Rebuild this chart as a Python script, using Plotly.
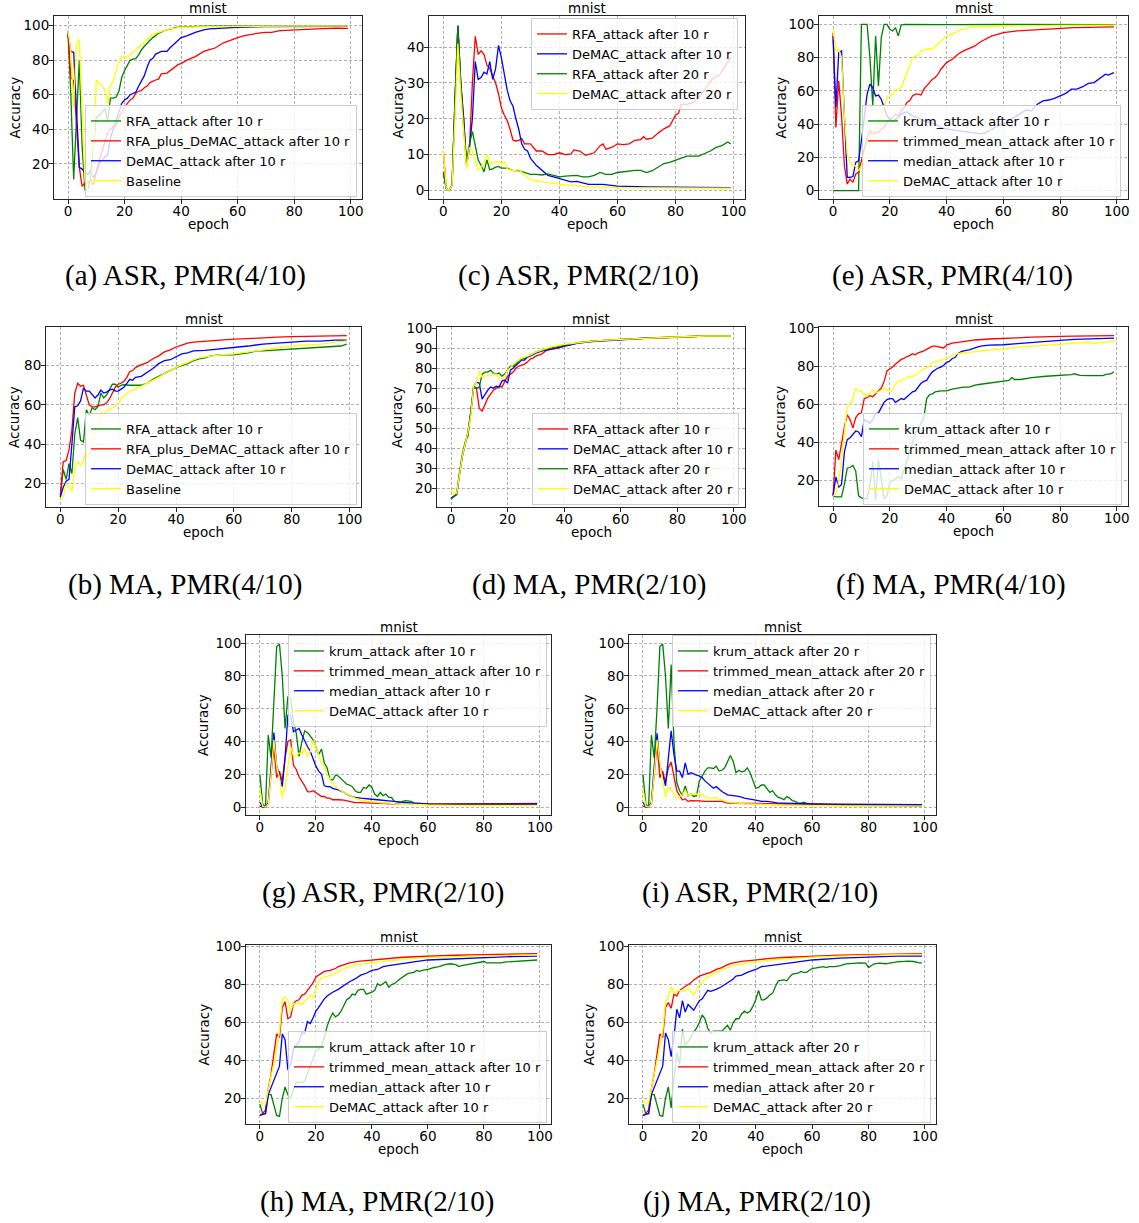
import plotly.graph_objects as go

W, H = 1139, 1223
GREEN, RED, BLUE, YELLOW = "#008000", "#ff0000", "#0000ff", "#ffff00"
FONT = "DejaVu Sans"
SERIF = "Liberation Serif"

# ---------------- (a) ASR, PMR(4/10) ----------------
a_rfa = [(0,97),(1,60),(2,11),(3,45),(4,80),(5,30),(6,5),(7,5),(8,12),(9,30),(10,47),(11,48),(12,50),(13,52),(14,45),(15,58),(16,58),(17,58.5),(18,62),(19,70),(20,74),(21,77),(22,80),(23,80.5),(24,81),(25,83),(26,86),(27,88),(28,90),(29,91.5),(30,93),(32,95.5),(34,97),(36,98),(38,98.8),(40,99.2),(45,99.5),(50,99.6),(60,99.7),(70,99.7),(80,99.6),(90,99.6),(99,99.5)]
a_plus = [(0,95),(1,70),(2,68),(3,40),(4,18),(5,7),(6,9),(7,9),(8,10),(9,8),(10,15),(11,22),(12,27),(13,32),(14,38),(15,40),(16,42),(17,42),(18,47),(19,50),(20,53),(21,55),(22,57),(23,58),(24,61),(25,62),(26,62.5),(27,64),(28,65),(29,67),(30,68),(31,68.5),(32,69),(33,72),(35,72.5),(37,75),(39,77.5),(40,78),(42,80),(45,82),(48,85),(50,86),(52,87),(55,90),(58,92),(60,93),(62,94),(65,95),(68,95.8),(70,96),(72,96),(75,97),(80,97.5),(85,98),(90,98.2),(95,98.5),(99,98.3)]
a_demac = [(0,95),(1,85),(2,84.5),(3,50),(4,18),(5,17),(6,15),(7,14),(8,16),(9,12),(10,15),(11,20),(12,22),(13,24),(14,25),(15,35),(16,40),(17,45),(18,50),(19,55),(20,57),(21,58),(22,60),(23,61),(24,61.5),(25,65),(26,68),(27,71),(28,76),(29,80),(30,81),(31,83.5),(33,85),(35,85),(36,87),(38,90),(40,93),(42,94),(45,96),(48,97.5),(50,98),(55,98.5),(60,99),(70,99.4),(80,99.5),(99,99.5)]
a_base = [(0,97),(1,85),(2,53),(3,90),(4,92),(5,55),(6,10),(7,5),(8,5),(9,25),(10,68.5),(11,67),(12,65),(13,63),(14,55),(15,65),(16,68),(17,73),(18,79),(19,82),(20,82),(21,81.5),(22,83),(24,86),(26,89),(28,92),(30,95),(32,96),(34,97),(36,98),(38,98.5),(40,99),(50,99.3),(60,99.5),(80,99.6),(99,99.7)]

# ---------------- (c) ASR, PMR(2/10) ----------------
c_rfa10 = [(0,11),(1,0.5),(2,0),(3,1.5),(4,25),(5,46),(6,30),(7,20),(8,7),(9,12),(10,30),(11,43),(12,38),(13,39),(14,38),(15,35),(16,34),(17,32),(18,30),(19,27),(20,23),(21,21),(22,19.5),(23,17),(24,14),(25,13.8),(26,14),(27,14.5),(28,13),(30,13),(31,12),(32,11),(34,11),(36,10),(38,10),(40,10.5),(42,10),(44,10.2),(45,11.3),(47,11),(49,9.8),(50,10),(52,10.5),(54,12.5),(55,13),(56,11.5),(58,12),(60,13),(62,12.8),(64,13),(66,14),(68,14.2),(69,15),(70,14.3),(72,14.6),(74,16),(76,17.2),(78,18),(80,21),(81,21.5),(82,24),(84,24),(86,24.5),(88,26),(90,28),(92,30.5),(94,32),(95,32),(97,34.5),(99,37)]
c_demac10 = [(0,5),(1,0.5),(2,0),(3,1.5),(4,25),(5,46),(6,30),(7,20),(8,7),(9,12),(10,20),(11,36),(12,31),(13,31.5),(14,33),(15,32.5),(16,36),(17,31),(18,34),(19,40.5),(20,37),(21,32),(22,28),(23,25),(24,23.5),(25,20),(26,17),(27,13),(28,11.5),(29,11),(30,9),(32,7),(34,5.5),(36,4.2),(38,3.8),(40,3.3),(42,2.8),(44,2.4),(46,2.5),(48,2.1),(50,1.7),(55,1.7),(58,1.3),(60,1.2),(70,1.0),(80,1.0),(90,0.9),(99,0.8)]
c_rfa20 = [(0,5),(1,0.5),(2,0),(3,1.5),(4,25),(5,46),(6,30),(7,17),(8,8),(9,13),(10,16.5),(11,12),(12,8.5),(13,7),(14,5.2),(15,8.5),(16,5.8),(17,6),(18,6.5),(19,6.7),(20,6.2),(22,6.2),(24,5.5),(26,5.5),(28,5),(30,4.5),(32,4.5),(34,4.3),(36,4.6),(38,4.3),(40,3.8),(42,4),(44,4.2),(46,4.2),(48,3.8),(50,3.8),(52,4.2),(54,5),(56,4.5),(58,4.5),(60,5),(62,5.2),(64,5.6),(66,5.6),(68,5.6),(70,5),(72,5.5),(74,6.5),(76,7.5),(78,7.8),(80,8.3),(82,9),(84,9.6),(86,9.5),(88,9.6),(90,10.3),(92,11),(94,12),(96,12.5),(98,13.5),(99,13)]
c_demac20 = [(0,11),(1,0.5),(2,0),(3,1.5),(4,20),(5,41),(6,27),(7,15),(8,6),(9,12),(10,11),(11,8),(12,5.5),(13,6.5),(14,7.5),(15,10.2),(16,7.3),(17,7.8),(18,8),(19,8),(20,7.5),(21,8),(22,6),(24,5.5),(26,5.8),(28,4.5),(30,3),(32,2.7),(34,2.3),(36,2.1),(38,2),(40,1.7),(42,1.5),(44,1.5),(46,1.3),(48,1.1),(50,1.0),(55,0.9),(60,0.7),(70,0.7),(80,0.7),(99,0.6)]

# ---------------- (e) ASR, PMR(4/10) ----------------
e_krum = [(0,0),(1,0),(2,0),(3,0),(4,0),(5,0),(6,0),(7,0),(8,0),(9,0),(10,100),(11,100),(12,100),(13,80),(14,51),(15,93),(16,63),(17,92),(18,100),(19,100),(20,97),(21,96),(22,98),(23,93),(24,99.5),(25,100),(30,99.8),(40,99.8),(60,99.9),(80,99.9),(99,99.8)]
e_trim = [(0,95),(1,38),(2,66),(3,45),(4,15),(5,4),(6,7),(7,5),(8,10),(9,11),(10,18),(11,25),(12,32),(13,36),(14,34),(15,35),(16,35),(17,37),(18,38),(19,41),(20,43),(21,44),(22,46),(23,45),(24,48),(25,50),(26,53),(27,54),(28,57),(29,58),(30,58),(31,57.5),(32,61),(33,63),(34,65),(35,67),(36,68),(37,70),(38,73),(39,75),(40,77),(42,79),(44,82),(46,84),(48,85.5),(50,87),(52,89.5),(54,91.5),(56,93),(58,94),(60,95),(65,96),(70,96.5),(72,97),(80,97.5),(85,98),(90,98.2),(99,98.5)]
e_median = [(0,93),(1,50),(2,83),(3,84),(4,45),(5,8),(6,8),(7,8.5),(8,17),(9,18),(10,30),(11,45),(12,58),(13,64),(14,62),(15,57),(16,57.5),(17,55),(18,50),(19,45),(20,43),(21,42),(22,43),(23,44),(24,46),(25,47),(26,47.5),(27,46),(28,45),(30,44),(32,42),(34,41),(36,40),(38,38),(40,37),(42,36.5),(44,36),(46,35.5),(48,35),(50,34.5),(52,34.2),(54,35),(56,37),(58,39),(60,40),(62,42),(64,44),(66,46),(68,48.5),(70,48),(72,52),(74,54),(76,54.5),(78,55.5),(80,57),(82,58.5),(84,61),(86,61),(88,62.5),(90,64.5),(92,65),(94,67.5),(96,70),(97,69.5),(99,71)]
e_demac = [(0,97),(1,84),(2,85),(3,80),(4,45),(5,22),(6,17),(7,15),(8,15),(9,12),(10,15),(11,20),(12,25),(13,30),(14,35),(15,38),(16,40),(17,45),(18,50),(19,56),(20,57),(21,58),(22,60.5),(23,61),(24,62),(25,66),(26,70),(27,75),(28,80),(29,81),(30,81),(31,84),(33,85),(35,85),(36,87),(38,90),(40,93),(42,94),(44,96),(46,97),(48,98),(50,98.5),(60,99),(80,99.4),(99,99.5)]

# ---------------- (b) MA, PMR(4/10) ----------------
b_rfa = [(0,13),(1,27),(2,22),(3,30),(4,25),(5,45),(6,53.5),(7,42),(8,41),(9,57.5),(10,54.5),(11,58.5),(12,57.5),(13,59),(14,66),(15,63.5),(16,65),(17,68),(18,70.5),(19,70.5),(20,69),(21,70),(22,70.3),(24,70),(26,70),(28,70),(30,71),(32,73),(34,74.5),(36,76),(38,77.5),(40,79),(42,80),(44,81),(46,82.5),(48,83.5),(50,84),(52,85),(55,85.5),(60,85.5),(65,86.5),(68,87.5),(70,87.5),(75,88),(80,88.5),(85,89),(90,89.5),(95,90),(97,90),(99,91)]
b_plus = [(0,14),(1,31),(2,31.5),(3,37),(4,47),(5,66),(6,71),(7,69.5),(8,70),(9,65),(10,60),(11,59),(12,59),(13,59.5),(14,60),(15,60),(16,61),(17,63),(18,66),(19,69),(20,70.5),(21,71),(22,72),(23,74),(24,77),(25,77.5),(26,79),(28,80.5),(30,81.5),(32,83.5),(34,85),(36,87),(38,88),(40,89.5),(42,90.5),(44,91.5),(46,92),(50,92.5),(55,93.2),(60,93.5),(65,93.8),(70,94),(75,94.5),(80,94.8),(85,95),(90,95.3),(99,95.3)]
b_demac = [(0,13),(1,18),(2,21),(3,22),(4,40),(5,59),(6,59.5),(7,62),(8,68.5),(9,67),(10,67),(11,65),(12,63.5),(13,65),(14,67.5),(15,66),(16,66.5),(17,67.5),(18,68),(19,67),(20,67),(21,68),(22,69),(23,71),(24,73),(25,72.5),(26,74),(28,74.5),(30,76.5),(32,78.5),(34,81),(36,82.5),(38,83),(40,84.5),(42,86),(44,86.5),(46,87.5),(50,87.8),(55,88.5),(60,89),(65,90),(70,91),(75,91.5),(80,92),(85,92.5),(90,92.5),(95,93),(99,93)]
b_base = [(0,12),(1,13),(2,20),(3,18),(4,16),(5,28),(6,31),(7,29),(8,31),(9,38),(10,33),(11,40),(12,45),(13,50),(14,56),(15,55.5),(16,57),(17,58),(18,58.5),(19,59.5),(20,60.5),(21,63),(22,64.5),(23,65.5),(24,67),(26,68),(28,69.5),(30,71),(32,72.5),(34,74),(36,76),(38,77.5),(40,79),(42,80.5),(44,81.5),(46,83),(48,84),(50,84.5),(55,85.5),(60,86),(65,87),(70,88),(75,89),(80,90),(85,90.5),(90,91),(95,92),(99,92.5)]

# ---------------- (d) MA, PMR(2/10) ----------------
d_rfa10 = [(0,15),(1,16),(2,17),(3,27),(4,36),(5,42),(6,48),(7,58),(8,71),(9,70),(10,60),(11,58.5),(12,62),(13,65),(14,67),(15,69),(16,70),(17,71),(18,70.5),(19,73),(20,76),(21,77),(22,78),(23,80),(24,81),(25,81.5),(26,82),(27,83),(28,84.5),(29,85),(30,86),(32,87),(34,89),(36,89.5),(38,90),(40,91),(42,91.5),(44,92.5),(46,93),(50,93.5),(60,94.3),(70,95),(80,95.5),(90,96),(99,96)]
d_demac10 = [(0,15),(1,16),(2,17),(3,27),(4,36),(5,42),(6,48),(7,58),(8,71),(9,73),(10,72.5),(11,64.5),(12,67),(13,69),(14,70.5),(15,70),(16,71),(17,70.5),(18,73.5),(19,74),(20,72.5),(21,79),(22,80),(24,83),(25,84),(26,84),(27,85.5),(28,86),(30,87.5),(32,88.5),(35,89.5),(40,91),(45,92.5),(50,93.2),(60,94),(70,95),(80,95.3),(90,96),(99,96)]
d_rfa20 = [(0,14.7),(1,16),(2,17),(3,28),(4,37),(5,43),(6,46),(7,58),(8,70),(9,70),(10,70.5),(11,77),(12,78),(13,78),(14,79),(15,77.5),(16,77),(17,77.5),(18,76),(19,77),(20,79),(21,81),(22,81),(23,82),(24,84),(26,85),(28,86.5),(30,88),(32,89),(35,90),(40,91.5),(45,92.5),(50,93.5),(60,94.3),(70,95),(80,95.5),(90,96),(99,96)]
d_demac20 = [(0,19),(1,18),(2,17.5),(3,27),(4,36),(5,42),(6,48),(7,56),(8,71),(9,73),(10,78.5),(11,75.5),(12,76),(13,76.5),(14,76),(15,77),(16,77),(17,75),(18,74.5),(19,76),(20,79),(21,80),(22,82),(23,83),(24,84),(25,85),(26,85.5),(28,86.5),(30,88),(32,89),(35,90.5),(40,91.8),(45,92.5),(50,93.5),(60,94.3),(70,95),(80,95.5),(90,96),(99,96)]

# ---------------- (f) MA, PMR(4/10) ----------------
f_krum = [(0,12),(1,11.5),(2,11.5),(3,11.5),(4,18),(5,26.5),(6,27),(7,28),(8,25),(9,12),(10,11),(11,10.5),(12,10.5),(13,18),(14,30),(15,10),(16,31),(17,20),(18,10.5),(19,12),(20,19),(21,20),(22,21),(23,22),(24,21),(25,25),(26,30),(27,35),(28,40),(29,45),(30,47),(31,50),(32,53),(33,63),(34,65),(35,65.5),(36,66.5),(38,67),(40,67),(42,68),(44,68.5),(46,69),(48,69),(50,70),(52,70.5),(55,71),(58,71.5),(60,72),(62,72.5),(63,74),(64,73),(66,73),(70,74),(75,74.7),(80,75),(84,75.5),(85,76),(87,75.2),(90,75),(93,75.2),(95,75),(96,75.5),(98,76),(99,77)]
f_trim = [(0,12),(1,36),(2,31),(3,40),(4,48),(5,54.5),(6,52),(7,47.5),(8,53),(9,55),(10,55.5),(11,63),(12,63.5),(13,64.5),(14,64),(15,65.5),(16,67),(17,68.5),(18,72),(19,77.5),(20,78.5),(21,79.5),(22,81),(23,82.5),(24,83.5),(25,84),(26,85),(27,85.5),(28,86.5),(29,86),(30,87),(32,88),(34,89.5),(35,90.5),(36,90.5),(38,90),(39,89.5),(40,91),(42,92),(44,92.5),(46,93),(50,93.7),(55,94.2),(60,94.4),(65,94.8),(70,95.2),(75,95.5),(80,95.6),(85,95.7),(90,95.8),(99,96)]
f_median = [(0,12),(1,22),(2,16.5),(3,18),(4,35),(5,41.5),(6,42.5),(7,44),(8,46),(9,45.5),(10,43),(11,52),(12,51),(13,50),(14,52),(15,55),(16,55.5),(17,58),(18,61),(19,62.5),(20,63),(21,63),(22,61),(23,62),(24,63),(25,62.5),(26,64),(27,65),(28,66.5),(29,67),(30,69),(31,71),(32,72),(33,72.5),(34,75),(35,77),(36,78),(37,79),(38,79.5),(39,80.5),(40,82),(41,82.5),(42,84),(43,84.5),(44,86.5),(45,87.5),(46,88),(48,88.5),(50,89.5),(52,90.5),(55,91),(60,91.2),(65,91.8),(70,92.5),(75,93),(80,93.5),(85,94),(90,94.2),(95,94.5),(99,94.7)]
f_demac = [(0,12),(1,13),(2,20),(3,30),(4,45),(5,58.5),(6,60),(7,63),(8,68.5),(9,67),(10,67),(11,65),(12,64),(13,65.5),(14,67.5),(15,66),(16,66.5),(17,67.5),(18,68.5),(19,67.5),(20,67),(21,68),(22,70),(23,72.5),(24,72),(25,73),(26,74),(28,74.5),(30,76.5),(32,78.5),(34,80),(35,82),(37,82.5),(39,83.5),(40,84),(42,85.5),(44,86.5),(46,87),(50,87.5),(55,88.5),(60,89),(65,90),(70,90.5),(75,91),(80,91.5),(85,92),(90,92.5),(92,91.8),(95,92.5),(99,93)]

# ---------------- (g) ASR, PMR(2/10), attack after 10 rounds ----------------
g_krum = [(0,20),(1,2),(2,0),(3,44),(4,30),(5,60),(6,98),(7,99.5),(8,80),(9,48),(10,67.5),(11,66),(12,52),(13,45),(14,31),(15,40),(16,46.5),(17,45.5),(18,43.5),(19,41),(20,37),(21,32),(22,35.5),(23,27),(24,24),(25,17),(26,16.5),(27,19.5),(28,19),(29,17.5),(30,16),(31,14),(32,13.5),(33,12.5),(34,10),(35,9),(36,9),(37,12),(38,11.5),(39,13.5),(40,12),(41,8),(42,6.5),(43,9),(44,7),(45,8),(46,6),(47,6),(48,3.5),(50,3),(52,4),(54,3.5),(55,2.5),(57,2.2),(60,2),(70,1.8),(80,1.8),(90,1.8),(99,1.8)]
g_trim = [(0,0.5),(1,0.5),(2,0),(3,2),(4,20),(5,36),(6,18),(7,22),(8,16),(9,30),(10,40),(11,41),(12,25.5),(13,23),(14,18.5),(15,16),(16,13),(17,9.5),(18,9.3),(19,10),(20,9),(21,7.5),(22,6.5),(23,6.5),(24,5.5),(25,5.5),(26,4.5),(28,4.5),(30,4.3),(32,3.5),(34,2.8),(36,2.7),(38,2.8),(40,2.5),(45,2.2),(50,1.8),(60,1.7),(70,1.8),(80,1.9),(90,2.0),(99,2.2)]
g_median = [(0,3),(1,0),(2,0),(3,3),(4,25),(5,45.5),(6,25),(7,20),(8,12.5),(9,30),(10,56),(11,56),(12,46),(13,47),(14,48),(15,44),(16,40),(17,37),(18,34),(19,29),(20,25),(21,22),(22,20),(23,13),(24,12.5),(25,12.5),(26,11.5),(28,10.5),(30,9),(32,7),(34,6),(36,5.5),(38,5),(40,4.8),(42,4.5),(44,4),(46,3.8),(48,3.5),(50,3),(55,2.5),(60,2),(70,1.8),(80,2),(90,2),(99,2)]
g_demac = [(0,11),(1,0.5),(2,0),(3,2),(4,20),(5,41),(6,25),(7,18),(8,6),(9,12),(10,25),(11,37),(12,31),(13,31.5),(14,33),(15,32.5),(16,36),(17,31),(18,34),(19,40.5),(20,37),(21,32),(22,27),(23,25),(24,20),(25,17),(26,14),(27,12.5),(28,11),(29,10),(30,9),(32,7),(34,5.5),(36,4.2),(38,3.8),(40,3.3),(42,2.8),(44,2.4),(46,2.5),(48,2.1),(50,1.7),(55,1.7),(60,1.3),(70,1.0),(80,1.0),(90,0.9),(99,0.8)]

# ---------------- (i) ASR, PMR(2/10), attack after 20 rounds ----------------
i_krum = [(0,20),(1,2),(2,0),(3,44),(4,30),(5,60),(6,98),(7,99.5),(8,80),(9,48),(10,87),(11,40),(12,15),(13,10),(14,7),(15,13),(16,7),(17,8),(18,6.5),(19,7),(20,16),(21,19),(22,22),(23,24),(24,24),(25,23.5),(26,25),(27,22),(28,22.5),(29,24),(30,28),(31,31.5),(32,28),(33,21),(34,22.5),(35,21.5),(36,22),(37,24),(38,21),(39,16),(40,11.5),(41,12),(42,13.5),(43,13.5),(44,11),(45,9),(46,10),(47,7.5),(48,6),(49,5.5),(50,4.5),(51,6.5),(52,5.5),(53,4),(54,3.5),(55,2.5),(56,2.5),(57,3),(58,2.5),(60,1.8),(70,1.2),(80,1),(90,0.8),(99,0.5)]
i_trim = [(0,0.5),(1,0.5),(2,0),(3,2),(4,20),(5,38),(6,18),(7,22),(8,15),(9,24),(10,27.5),(11,18),(12,10),(13,7),(14,4.5),(15,5),(16,3.5),(17,4),(18,3.8),(20,3.8),(22,3.5),(24,3.7),(26,3.5),(28,3.5),(30,2.5),(32,2.5),(34,2.3),(36,2.2),(40,2.2),(45,2.0),(50,2.0),(60,1.8),(70,1.5),(80,1.5),(90,1.5),(99,1.3)]
i_median = [(0,3),(1,0),(2,0),(3,3),(4,25),(5,45),(6,25),(7,20),(8,13),(9,28),(10,46.5),(11,32),(12,22),(13,22),(14,18),(15,27),(16,20),(17,21),(18,20),(19,19.5),(20,19),(21,18),(22,16),(23,14.5),(24,12.5),(25,11.5),(26,12.5),(27,11),(28,9.5),(30,7.5),(32,7),(34,6.5),(36,5.5),(38,5),(40,4.3),(42,3.5),(44,3.5),(46,3),(48,2.5),(50,2.5),(55,2.2),(60,2),(70,1.8),(80,1.7),(90,1.6),(99,1.5)]
i_demac = [(0,11),(1,0.5),(2,0),(3,2),(4,20),(5,41),(6,27),(7,15),(8,6),(9,12),(10,11),(11,8),(12,5.5),(13,6.5),(14,7.5),(15,10.2),(16,7.3),(17,7.8),(18,8),(19,8),(20,7.5),(21,8),(22,6),(24,5.5),(26,5.8),(28,4.5),(30,3),(32,2.7),(34,2.3),(36,2.1),(38,2),(40,1.7),(42,1.5),(44,1.5),(46,1.3),(48,1.1),(50,1.0),(55,0.9),(60,0.7),(70,0.7),(80,0.7),(99,0.6)]

# ---------------- (h) MA, PMR(2/10), attack after 10 rounds ----------------
h_krum = [(0,17),(1,12),(2,12),(3,22),(4,22),(5,17),(6,11),(7,10.5),(8,20),(9,26),(10,22),(11,20),(12,24),(13,28.5),(14,28.5),(15,28.5),(16,29),(17,33),(18,36),(19,40),(20,45),(21,46),(22,48),(23,52),(24,58),(25,62),(26,65),(27,63),(28,64),(29,66),(30,69),(31,72),(32,73),(33,75),(34,74.5),(35,77),(36,77.5),(37,77.5),(38,75),(39,75.5),(40,76),(41,77),(42,80.5),(43,79.5),(44,80.5),(45,81.5),(46,78.5),(47,80),(48,80.5),(49,82),(50,83),(52,85),(53,86),(55,86.5),(56,87.5),(57,87),(58,87.5),(60,88),(62,89),(64,89.5),(66,90.5),(68,91),(70,90.5),(71,89.5),(72,90),(74,90.5),(76,91),(78,91.5),(80,92.2),(81,91.5),(84,91.5),(86,91.5),(88,92),(90,92.2),(94,92.5),(97,92.7),(99,93)]
h_trim = [(0,11),(1,12),(2,14),(3,25),(4,33),(5,45),(6,54),(7,52),(8,68),(9,71),(10,62),(11,63),(12,70),(13,71.5),(14,72),(15,74.5),(16,75),(17,77),(18,79),(19,81),(20,84),(21,85),(22,86),(23,87),(25,87.5),(27,88.5),(28,89.5),(30,90.5),(32,91.5),(35,92.3),(40,93),(45,93.7),(50,94.3),(55,94.7),(60,95),(70,95.5),(80,95.8),(90,96.2),(99,96.3)]
h_median = [(0,11),(1,11.5),(2,12),(3,22),(4,26),(5,29),(6,33),(7,37),(8,54),(9,51),(10,35),(11,38),(12,46),(13,48),(14,50),(15,54.5),(16,54.5),(17,60.5),(18,59.5),(19,62.5),(20,66),(21,68),(22,70.5),(23,72.5),(24,74),(25,75),(26,76),(28,77.5),(30,79.5),(32,81.5),(34,83),(36,85),(38,86),(40,87.5),(42,88),(44,89.5),(46,90),(50,91),(55,92),(60,93),(65,93.3),(70,93.8),(75,94.2),(80,94.5),(90,94.8),(99,95)]
h_demac = [(0,19),(1,17),(2,17),(3,25),(4,32),(5,38),(6,46),(7,55),(8,72),(9,73.5),(10,72),(11,66),(12,70),(13,69.5),(14,70.5),(15,69.5),(16,71),(17,73),(18,74.5),(19,73),(20,78),(21,82),(22,83.5),(24,84.5),(26,85),(28,87),(30,88.5),(32,89.5),(35,90.5),(40,91.5),(45,92.5),(50,93.2),(55,93.8),(60,94.3),(70,94.8),(80,95.2),(90,95.5),(99,95.7)]

# ---------------- (j) MA, PMR(2/10), attack after 20 rounds ----------------
j_krum = [(0,17),(1,12),(2,12),(3,22),(4,22),(5,17),(6,11),(7,10.5),(8,20),(9,26),(10,15),(11,30),(12,44),(13,38),(14,56.5),(15,48),(16,50),(17,52),(18,55),(19,57),(20,60),(21,64),(22,62),(23,57),(24,54.5),(25,55.5),(26,55.5),(28,55.5),(29,57),(30,58.5),(31,56),(32,60),(33,62),(34,62),(35,64.5),(36,66),(37,65),(38,66),(39,68.5),(40,72),(41,77),(42,72),(43,72),(44,73),(45,74.5),(46,75.5),(47,79),(48,82),(50,82.5),(51,82),(52,84),(53,85.5),(55,86),(56,87),(57,86.5),(58,86.5),(60,88.5),(62,89),(64,89.5),(65,89),(66,89.5),(68,89.5),(70,90),(72,91),(75,91.5),(77,91.5),(79,91.3),(80,89),(82,91),(84,91.3),(86,91),(88,91.5),(90,92),(94,92.4),(96,92.2),(98,91.5),(99,91.5)]
j_trim = [(0,11),(1,12),(2,14),(3,25),(4,33),(5,45),(6,54),(7,52),(8,68),(9,70.5),(10,67.5),(11,75),(12,74),(13,77),(14,78),(15,79),(16,80),(17,81),(18,82.5),(19,83.5),(20,84.5),(22,85.5),(24,86.5),(26,88),(28,89),(30,90.5),(32,91.5),(35,92.3),(40,93.2),(45,93.8),(50,94.3),(60,95),(70,95.5),(80,95.8),(90,96),(99,96.3)]
j_median = [(0,11),(1,11.5),(2,12),(3,22),(4,26),(5,29),(6,33),(7,37),(8,54.5),(9,51),(10,42),(11,52),(12,67),(13,62.5),(14,71.5),(15,65.5),(16,69.5),(17,68),(18,66.5),(19,69),(20,71.5),(21,72.5),(22,74.5),(23,77),(24,76.5),(25,77),(26,77.5),(28,79),(30,81),(32,83),(33,84.5),(35,85),(37,86.5),(40,88),(42,89.5),(45,90),(50,91),(55,92),(60,93),(70,94),(80,94.5),(90,95),(99,95)]
j_demac = [(0,19),(1,17.5),(2,17.5),(3,25),(4,31),(5,38),(6,46),(7,55),(8,71),(9,73.5),(10,79),(11,75.5),(12,76.5),(13,77),(14,76.5),(15,77),(16,78),(17,76),(18,74.5),(19,77),(20,80),(21,81),(22,83),(24,85),(26,86.5),(28,88),(30,89),(32,90),(35,90.8),(40,92),(45,93),(50,93.5),(60,94.5),(70,95),(80,95.5),(90,95.8),(99,96)]

X_TICKS = [0, 20, 40, 60, 80, 100]

# Panel layout: frame = (left, right, top, bottom) in pixels
PANELS = [
    dict(frame=(54, 362, 16, 199), yr=[-0.3, 105.5], yt=[20, 40, 60, 80, 100], ylab=14,
         leg=(85, 110), cap="(a) ASR, PMR(4/10)", capxy=(185, 275),
         series=[("RFA_attack after 10 r", GREEN, a_rfa), ("RFA_plus_DeMAC_attack after 10 r", RED, a_plus),
                 ("DeMAC_attack after 10 r", BLUE, a_demac), ("Baseline", YELLOW, a_base)]),
    dict(frame=(429, 745, 16, 199), yr=[-2.4, 48.7], yt=[0, 10, 20, 30, 40], ylab=397,
         leg=(531, 23), cap="(c) ASR, PMR(2/10)", capxy=(578, 275),
         series=[("RFA_attack after 10 r", RED, c_rfa10), ("DeMAC_attack after 10 r", BLUE, c_demac10),
                 ("RFA_attack after 20 r", GREEN, c_rfa20), ("DeMAC_attack after 20 r", YELLOW, c_demac20)]),
    dict(frame=(819, 1128, 16, 199), yr=[-5, 105], yt=[0, 20, 40, 60, 80, 100], ylab=780,
         leg=(862, 110), cap="(e) ASR, PMR(4/10)", capxy=(952, 275),
         series=[("krum_attack after 10 r", GREEN, e_krum), ("trimmed_mean_attack after 10 r", RED, e_trim),
                 ("median_attack after 10 r", BLUE, e_median), ("DeMAC_attack after 10 r", YELLOW, e_demac)]),
    dict(frame=(46, 361, 327, 507), yr=[7.9, 99.7], yt=[20, 40, 60, 80], ylab=14,
         leg=(85, 418), cap="(b) MA, PMR(4/10)", capxy=(185, 584),
         series=[("RFA_attack after 10 r", GREEN, b_rfa), ("RFA_plus_DeMAC_attack after 10 r", RED, b_plus),
                 ("DeMAC_attack after 10 r", BLUE, b_demac), ("Baseline", YELLOW, b_base)]),
    dict(frame=(437, 745, 327, 507), yr=[10.7, 100.5], yt=[20, 30, 40, 50, 60, 70, 80, 90, 100], ylab=397,
         leg=(532, 418), cap="(d) MA, PMR(2/10)", capxy=(589, 584),
         series=[("RFA_attack after 10 r", RED, d_rfa10), ("DeMAC_attack after 10 r", BLUE, d_demac10),
                 ("RFA_attack after 20 r", GREEN, d_rfa20), ("DeMAC_attack after 20 r", YELLOW, d_demac20)]),
    dict(frame=(819, 1128, 327, 506), yr=[6.7, 100.5], yt=[20, 40, 60, 80, 100], ylab=780,
         leg=(863, 418), cap="(f) MA, PMR(4/10)", capxy=(951, 584),
         series=[("krum_attack after 10 r", GREEN, f_krum), ("trimmed_mean_attack after 10 r", RED, f_trim),
                 ("median_attack after 10 r", BLUE, f_median), ("DeMAC_attack after 10 r", YELLOW, f_demac)]),
    dict(frame=(246, 551, 635, 815), yr=[-4.8, 105], yt=[0, 20, 40, 60, 80, 100], ylab=203,
         leg=(288, 640), cap="(g) ASR, PMR(2/10)", capxy=(383, 892),
         series=[("krum_attack after 10 r", GREEN, g_krum), ("trimmed_mean_attack after 10 r", RED, g_trim),
                 ("median_attack after 10 r", BLUE, g_median), ("DeMAC_attack after 10 r", YELLOW, g_demac)]),
    dict(frame=(629, 936, 635, 815), yr=[-4.8, 105], yt=[0, 20, 40, 60, 80, 100], ylab=588,
         leg=(672, 640), cap="(i) ASR, PMR(2/10)", capxy=(760, 892),
         series=[("krum_attack after 20 r", GREEN, i_krum), ("trimmed_mean_attack after 20 r", RED, i_trim),
                 ("median_attack after 20 r", BLUE, i_median), ("DeMAC_attack after 20 r", YELLOW, i_demac)]),
    dict(frame=(246, 551, 945, 1124), yr=[6.5, 100.9], yt=[20, 40, 60, 80, 100], ylab=203,
         leg=(288, 1036), cap="(h) MA, PMR(2/10)", capxy=(377, 1201),
         series=[("krum_attack after 10 r", GREEN, h_krum), ("trimmed_mean_attack after 10 r", RED, h_trim),
                 ("median_attack after 10 r", BLUE, h_median), ("DeMAC_attack after 10 r", YELLOW, h_demac)]),
    dict(frame=(629, 936, 945, 1124), yr=[6.5, 100.9], yt=[20, 40, 60, 80, 100], ylab=588,
         leg=(672, 1036), cap="(j) MA, PMR(2/10)", capxy=(757, 1201),
         series=[("krum_attack after 20 r", GREEN, j_krum), ("trimmed_mean_attack after 20 r", RED, j_trim),
                 ("median_attack after 20 r", BLUE, j_median), ("DeMAC_attack after 20 r", YELLOW, j_demac)]),
]


def fx(px):
    return px / W


def fy(px):
    return 1 - px / H


fig = go.Figure()
layout = dict(
    width=W, height=H, autosize=False,
    margin=dict(l=0, r=0, t=0, b=0, pad=0, autoexpand=False),
    paper_bgcolor="white", plot_bgcolor="white",
    font=dict(family=FONT, size=13.5, color="black"),
    annotations=[],
)

axis_common = dict(
    showline=True, mirror=True, linecolor="#262626", linewidth=1,
    ticks="outside", ticklen=4, tickwidth=1, tickcolor="#262626",
    showgrid=True, gridcolor="#b0b0b0", gridwidth=1, griddash="3px,2px",
    zeroline=False, automargin=False,
    tickfont=dict(family=FONT, size=13.5, color="black"),
)

for i, p in enumerate(PANELS, start=1):
    sfx = "" if i == 1 else str(i)
    xref, yref = "x" + sfx, "y" + sfx
    leg_name = "legend" + sfx
    L, R, T, B = p["frame"]

    layout["xaxis" + sfx] = dict(axis_common, domain=[fx(L), fx(R)], anchor=yref,
                                 range=[-4.95, 103.95], tickvals=X_TICKS, ticklabelstandoff=-4)
    layout["yaxis" + sfx] = dict(axis_common, domain=[fy(B), fy(T)], anchor=xref,
                                 range=p["yr"], tickvals=p["yt"], ticklabelstandoff=-3)
    lx, ly = p["leg"]
    layout[leg_name] = dict(
        x=fx(lx), y=fy(ly - 5), xanchor="left", yanchor="top", xref="paper", yref="paper",
        bgcolor="rgba(255,255,255,0.8)", bordercolor="#cccccc", borderwidth=1,
        font=dict(family=FONT, size=13, color="black"),
        itemwidth=30, traceorder="normal", tracegroupgap=0,
    )

    for name, color, pts in p["series"]:
        ep = [e for e, _ in pts]
        val = [v for _, v in pts]
        fig.add_trace(go.Scatter(
            x=ep, y=val, mode="lines", name=name,
            line=dict(color=color, width=1.3),
            xaxis=xref, yaxis=yref, legend=leg_name, showlegend=True,
        ))

    cx = (L + R) / 2
    cy = (T + B) / 2
    layout["annotations"] += [
        dict(text="mnist", x=fx(cx), y=fy(T - 8), xref="paper", yref="paper",
             showarrow=False, xanchor="center", yanchor="middle",
             font=dict(family=FONT, size=13.5, color="black")),
        dict(text="epoch", x=fx(cx), y=fy(B + 25), xref="paper", yref="paper",
             showarrow=False, xanchor="center", yanchor="middle",
             font=dict(family=FONT, size=13.5, color="black")),
        dict(text="Accuracy", x=fx(p["ylab"]), y=fy(cy), xref="paper", yref="paper",
             showarrow=False, xanchor="center", yanchor="middle", textangle=-90,
             font=dict(family=FONT, size=13.5, color="black")),
        dict(text=p["cap"], x=fx(p["capxy"][0]), y=fy(p["capxy"][1]), xref="paper", yref="paper",
             showarrow=False, xanchor="center", yanchor="middle",
             font=dict(family=SERIF, size=29, color="black")),
    ]

fig.update_layout(**layout)
fig.write_html("out.html")
